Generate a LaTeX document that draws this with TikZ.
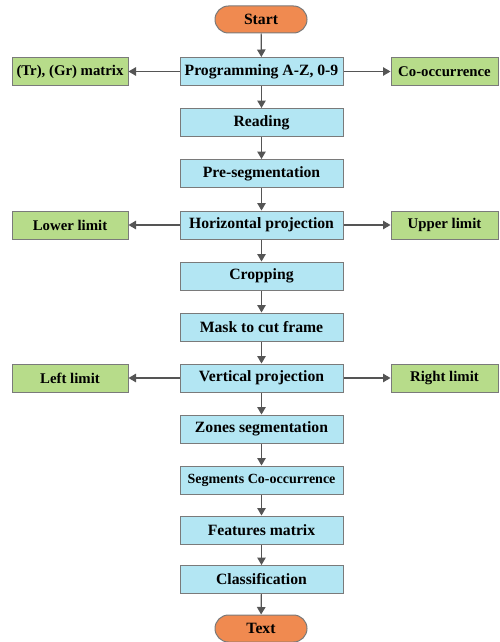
\documentclass[tikz,border=0pt]{standalone}
\usepackage{fontspec}
\setmainfont{Liberation Serif}
\usetikzlibrary{arrows.meta}
\definecolor{boxblue}{HTML}{B3E6F3}
\definecolor{boxgreen}{HTML}{B7DC8A}
\definecolor{ovalorange}{HTML}{F08A50}
\definecolor{edgegray}{HTML}{7A7A7A}
\definecolor{arrowgray}{HTML}{555555}
\tikzset{
  mainbox/.style={draw=edgegray, line width=1pt, fill=boxblue, minimum width=163pt, minimum height=28pt, inner sep=0pt, font=\fontsize{15.7}{18}\selectfont\bfseries},
  sidebox/.style={draw=edgegray, line width=1pt, fill=boxgreen, minimum height=28pt, inner sep=0pt, font=\fontsize{14.8}{17}\selectfont\bfseries},
  oval/.style={draw=edgegray, line width=1pt, fill=ovalorange, minimum width=92pt, minimum height=27pt, rounded corners=13.5pt, inner sep=0pt, font=\fontsize{15.7}{18}\selectfont\bfseries},
  flow/.style={draw=arrowgray, line width=1.2pt, -{Triangle[length=7.5pt,width=8.5pt]}}
}
\begin{document}
\begin{tikzpicture}[x=1pt,y=-1pt]
\useasboundingbox (0,0) rectangle (499,642);
\node[oval] (start) at (261,19.5) {Start};
\node[mainbox] (prog) at (261.5,71.5) {Programming A-Z, 0-9};
\node[sidebox, minimum width=116pt] (tr) at (70,71.5) {(Tr), (Gr) matrix};
\node[sidebox, minimum width=107pt] (co) at (444.5,71.5) {Co-occurrence};
\node[mainbox] (read) at (261.5,122.5) {Reading};
\node[mainbox] (pre) at (261.5,173.5) {Pre-segmentation};
\node[mainbox] (hor) at (261.5,225) {Horizontal projection};
\node[sidebox, minimum width=116pt] (low) at (70,225) {Lower limit};
\node[sidebox, minimum width=107pt] (up) at (444.5,225) {Upper limit};
\node[mainbox] (crop) at (261.5,276) {Cropping};
\node[mainbox] (mask) at (261.5,327) {Mask to cut frame};
\node[mainbox] (ver) at (261.5,378) {Vertical projection};
\node[sidebox, minimum width=116pt] (left) at (70,378) {Left limit};
\node[sidebox, minimum width=107pt] (right) at (444.5,378) {Right limit};
\node[mainbox] (zone) at (261.5,429) {Zones segmentation};
\node[mainbox, font=\fontsize{14}{16}\selectfont\bfseries] (seg) at (261.5,480) {Segments Co-occurrence};
\node[mainbox] (feat) at (261.5,530) {Features matrix};
\node[mainbox] (cls) at (261.5,579.5) {Classification};
\node[oval] (text) at (261,628.5) {Text};
\draw[flow] (start) -- (prog);
\draw[flow] (prog) -- (read);
\draw[flow] (read) -- (pre);
\draw[flow] (pre) -- (hor);
\draw[flow] (hor) -- (crop);
\draw[flow] (crop) -- (mask);
\draw[flow] (mask) -- (ver);
\draw[flow] (ver) -- (zone);
\draw[flow] (zone) -- (seg);
\draw[flow] (seg) -- (feat);
\draw[flow] (feat) -- (cls);
\draw[flow] (cls) -- (text);
\draw[flow] (prog) -- (tr);
\draw[flow] (prog) -- (co);
\draw[flow] (hor) -- (low);
\draw[flow] (hor) -- (up);
\draw[flow] (ver) -- (left);
\draw[flow] (ver) -- (right);
\end{tikzpicture}
\end{document}
